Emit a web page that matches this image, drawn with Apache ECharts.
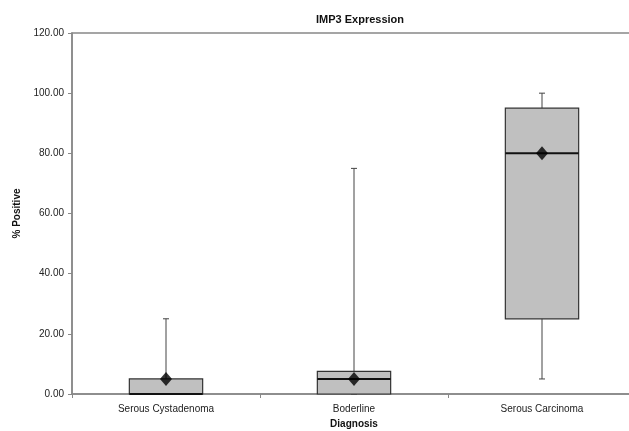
<!DOCTYPE html>
<html>
<head>
<meta charset="utf-8">
<script src="https://cdn.jsdelivr.net/npm/echarts@6/dist/echarts.min.js"></script>
<style>
  html, body { margin: 0; padding: 0; background: #fff; }
  #main { width: 629px; height: 431px; }
</style>
</head>
<body>
<div id="main"></div>
<script>
const categories = ['Serous Cystadenoma', 'Boderline', 'Serous Carcinoma']
const minVals = [0, 0, 5]
const q1Vals = [0, 0, 25]
const medVals = [0, 5, 80]
const q3Vals = [5, 7.5, 95]
const maxVals = [25, 75, 100]
const meanVals = [5, 5, 80]
const yTicks = [0, 20, 40, 60, 80, 100, 120]

const chart = echarts.init(document.getElementById('main'))

const boxData = categories.map((c, i) => [i, minVals[i], q1Vals[i], medVals[i], q3Vals[i], maxVals[i]])

function renderBox(params, api) {
  const i = api.value(0)
  const lo = api.coord([i, api.value(1)])
  const q1 = api.coord([i, api.value(2)])
  const md = api.coord([i, api.value(3)])
  const q3 = api.coord([i, api.value(4)])
  const hi = api.coord([i, api.value(5)])
  const bw = api.size([1, 0])[0] * 0.39
  const x = lo[0]
  const cap = 3
  const line = { stroke: '#444', lineWidth: 1 }
  return {
    type: 'group',
    children: [
      { type: 'line', shape: { x1: x, y1: q3[1], x2: x, y2: hi[1] }, style: line },
      { type: 'line', shape: { x1: x - cap, y1: hi[1], x2: x + cap, y2: hi[1] }, style: line },
      { type: 'line', shape: { x1: x, y1: q1[1], x2: x, y2: lo[1] }, style: line },
      { type: 'line', shape: { x1: x - cap, y1: lo[1], x2: x + cap, y2: lo[1] }, style: line },
      { type: 'rect', shape: { x: x - bw / 2, y: q3[1], width: bw, height: q1[1] - q3[1] },
        style: { fill: '#c0c0c0', stroke: '#333', lineWidth: 1.2 } },
      { type: 'line', shape: { x1: x - bw / 2, y1: md[1], x2: x + bw / 2, y2: md[1] },
        style: { stroke: '#111', lineWidth: 2 } }
    ]
  }
}

const option = {
  animation: false,
  title: {
    text: 'IMP3 Expression',
    left: 355,
    textAlign: 'center',
    top: 9,
    textStyle: { fontFamily: 'Liberation Sans', fontSize: 11, fontWeight: 'bold', color: '#111' }
  },
  grid: {
    left: 72, top: 33, width: 564, bottom: 37,
    outerBoundsMode: 'none',
    containLabel: false,
    show: true, borderColor: '#888', borderWidth: 1.5
  },
  xAxis: {
    type: 'category',
    data: categories,
    name: 'Diagnosis',
    nameLocation: 'middle',
    nameGap: 24,
    nameTextStyle: { fontFamily: 'Liberation Sans', fontSize: 10, fontWeight: 'bold', color: '#111' },
    axisLine: { lineStyle: { color: '#888', width: 1.5 } },
    axisTick: { show: true, length: 4, lineStyle: { color: '#888' } },
    axisLabel: { fontFamily: 'Liberation Sans', fontSize: 10, color: '#222', margin: 10 },
    splitLine: { show: false }
  },
  yAxis: {
    type: 'value',
    min: 0, max: 120, interval: 20,
    name: '% Positive',
    nameLocation: 'middle',
    nameGap: 45,
    nameTextStyle: { fontFamily: 'Liberation Sans', fontSize: 10, fontWeight: 'bold', color: '#111' },
    axisLine: { show: true, lineStyle: { color: '#888', width: 1.5 } },
    axisTick: { show: true, length: 4, lineStyle: { color: '#888' } },
    axisLabel: {
      fontFamily: 'Liberation Sans', fontSize: 10, color: '#222', margin: 8,
      formatter: v => yTicks.includes(v) ? v.toFixed(2) : ''
    },
    splitLine: { show: false }
  },
  series: [
    {
      type: 'custom',
      renderItem: renderBox,
      data: boxData,
      encode: { x: 0, y: [1, 2, 3, 4, 5] },
      clip: false,
      z: 2
    },
    {
      type: 'scatter',
      data: meanVals.map((v, i) => [i, v]),
      symbol: 'diamond',
      symbolSize: [12, 14],
      itemStyle: { color: '#000' },
      z: 3
    }
  ]
}

option && chart.setOption(option)
</script>
</body>
</html>
